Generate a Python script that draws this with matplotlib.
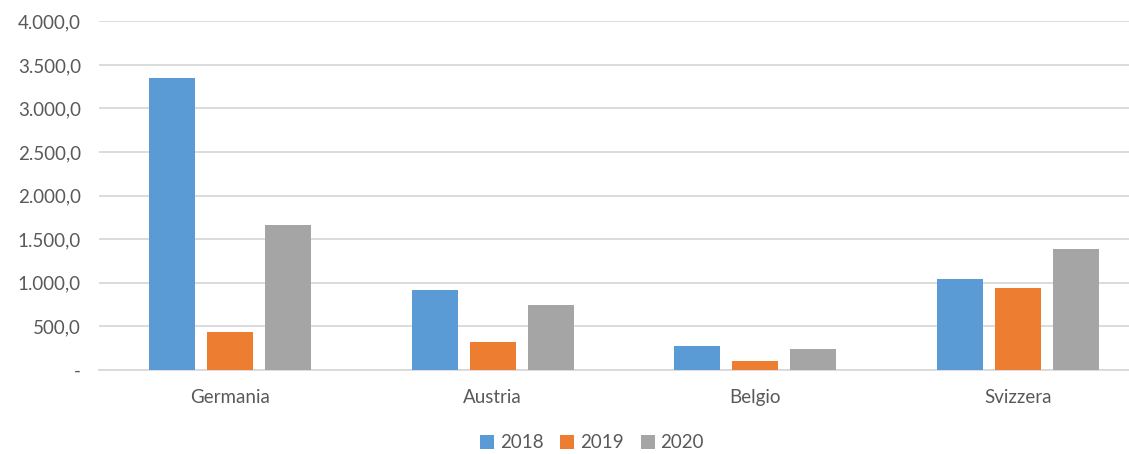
import matplotlib
matplotlib.use("Agg")
import matplotlib.pyplot as plt
import numpy as np

countries = ["Germania", "Austria", "Belgio", "Svizzera"]
years = ["2018", "2019", "2020"]
v2018 = [3345, 921, 272, 1040]
v2019 = [433, 317, 103, 940]
v2020 = [1663, 745, 237, 1384]

COLORS = ["#5B9BD5", "#ED7D31", "#A5A5A5"]
TEXT = "#595959"
GRID = "#D9D9D9"

plt.rcParams["font.family"] = ["Lato", "DejaVu Sans"]

fig = plt.figure(figsize=(11.29, 4.54), dpi=100)
ax = fig.add_axes([99 / 1129, 84 / 454, 1030 / 1129, 348.7 / 454])

x = np.arange(len(countries))
width = 0.175
step = 0.221
for i, (vals, yr) in enumerate(zip([v2018, v2019, v2020], years)):
    ax.bar(x + (i - 1) * step, vals, width, color=COLORS[i], label=yr, zorder=3)

ax.set_xlim(-0.5, 3.424)
ax.set_ylim(0, 4000)
yt = np.arange(0, 4001, 500)
ax.set_yticks(yt)

def fmt(v):
    if v == 0:
        return "-"
    s = f"{v:,.1f}"
    return s.replace(",", "X").replace(".", ",").replace("X", ".")

ax.set_yticklabels([fmt(v) for v in yt], color=TEXT, fontsize=13.5)
ax.set_xticks(x)
ax.set_xticklabels(countries, color=TEXT, fontsize=13.5)
ax.tick_params(axis="both", length=0)
ax.tick_params(axis="y", pad=13)
ax.tick_params(axis="x", pad=14)
ax.yaxis.grid(True, color=GRID, lw=1.3, zorder=0)
for s in ["top", "right", "left"]:
    ax.spines[s].set_visible(False)
ax.spines["bottom"].set_color(GRID)
ax.spines["bottom"].set_linewidth(1.3)

fig.legend(loc="center", bbox_to_anchor=(592 / 1129, 1 - 443 / 454), ncol=3,
           frameon=False, fontsize=13.5, handlelength=0.75, handleheight=0.75,
           handletextpad=0.3, columnspacing=0.9, labelcolor=TEXT)

fig.savefig("out.png", dpi=100, facecolor="white")
